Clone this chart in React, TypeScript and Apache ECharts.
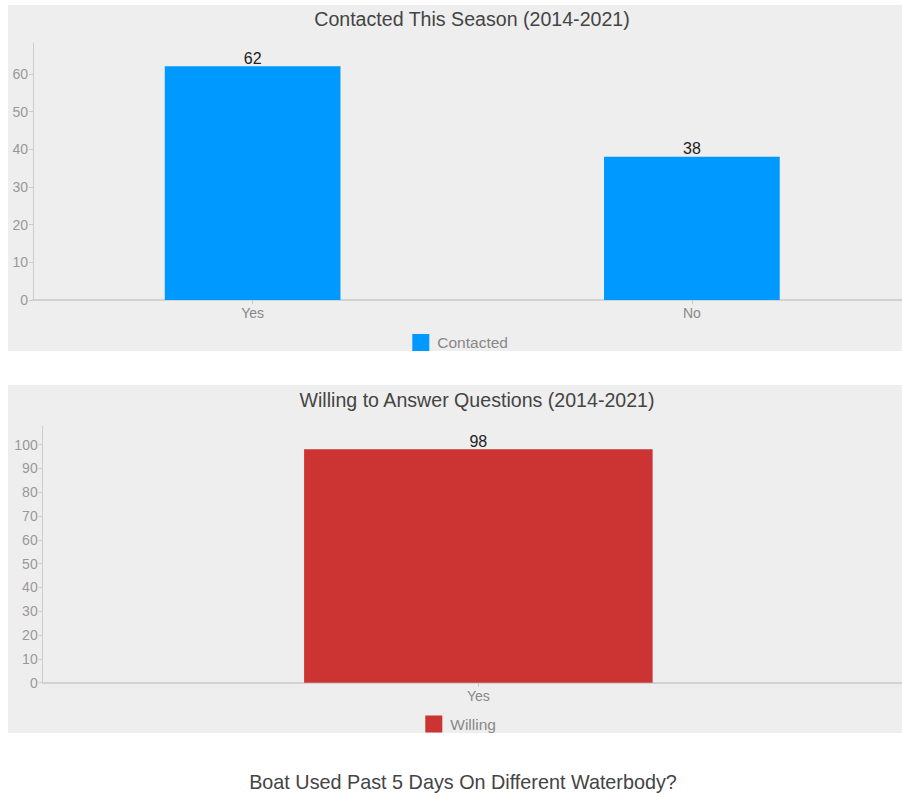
import React, { useEffect, useRef } from "react";
import * as echarts from "echarts";

const FONT = "'Liberation Sans', Arial, Helvetica, sans-serif";

const contactedTitle = "Contacted This Season (2014-2021)";
const contactedCategories = ["Yes", "No"];
const contactedValues = [62, 38];
const contactedTicks = [0, 10, 20, 30, 40, 50, 60];
const contactedLegend = "Contacted";

const willingTitle = "Willing to Answer Questions (2014-2021)";
const willingCategories = ["Yes"];
const willingValues = [98];
const willingTicks = [0, 10, 20, 30, 40, 50, 60, 70, 80, 90, 100];
const willingLegend = "Willing";

const boatTitle = "Boat Used Past 5 Days On Different Waterbody?";

type Layout = {
  titleX: number;
  titleTop: number;
  grid: { left: number; right: number; top: number; bottom: number };
  legendLeft: number;
  legendTop: number;
};

function buildBarOption(
  title: string,
  cats: string[],
  vals: number[],
  ticks: number[],
  legendName: string,
  color: string,
  lay: Layout
): any {
  return {
    animation: false,
    backgroundColor: "#eeeeee",
    title: {
      text: title,
      left: lay.titleX,
      top: lay.titleTop,
      textAlign: "center",
      padding: 0,
      textStyle: { fontFamily: FONT, fontSize: 19.6, fontWeight: "normal", color: "#444444" },
    },
    legend: {
      data: [{ name: legendName, icon: "rect" }],
      left: lay.legendLeft,
      top: lay.legendTop,
      padding: 0,
      itemWidth: 17,
      itemHeight: 17,
      itemGap: 8,
      selectedMode: false,
      textStyle: { fontFamily: FONT, fontSize: 15.5, color: "#888888", padding: [0, 0, 0, 3] },
    },
    grid: { ...lay.grid, containLabel: false },
    xAxis: {
      type: "category",
      data: cats,
      boundaryGap: true,
      axisLine: { show: true, lineStyle: { color: "#d2d2d2", width: 2 } },
      axisTick: { show: true, alignWithLabel: true, length: 4, lineStyle: { color: "#c8c8c8" } },
      axisLabel: { fontFamily: FONT, fontSize: 14, color: "#888888", margin: 6 },
      splitLine: { show: false },
    },
    yAxis: {
      type: "value",
      min: 0,
      max: (v: any) => Math.round(v.max * 1.1 * 10) / 10,
      axisLine: { show: true, lineStyle: { color: "#cccccc", width: 1 } },
      axisTick: {
        show: true,
        length: 4,
        customValues: ticks,
        lineStyle: { color: "#cccccc" },
      },
      axisLabel: {
        fontFamily: FONT,
        fontSize: 14,
        color: "#999999",
        margin: 5,
        customValues: ticks,
      },
      splitLine: { show: false },
    },
    series: [
      {
        name: legendName,
        type: "bar",
        data: vals,
        barWidth: "40%",
        itemStyle: { color },
        label: {
          show: true,
          position: "top",
          distance: 0,
          fontFamily: FONT,
          fontSize: 16,
          color: "#222222",
        },
      },
    ],
  };
}

function Chart({ option, style }: { option: any; style: React.CSSProperties }) {
  const ref = useRef<HTMLDivElement>(null);
  useEffect(() => {
    if (!ref.current) return;
    const chart = echarts.init(ref.current, null, { renderer: "svg" });
    chart.setOption(option);
    return () => chart.dispose();
  }, [option]);
  return <div ref={ref} style={style} />;
}

const option1 = buildBarOption(
  contactedTitle,
  contactedCategories,
  contactedValues,
  contactedTicks,
  contactedLegend,
  "#0099ff",
  {
    titleX: 464,
    titleTop: 3.7,
    grid: { left: 25, right: 26.5, top: 38, bottom: 51 },
    legendLeft: 404.3,
    legendTop: 329,
  }
);

const option2 = buildBarOption(
  willingTitle,
  willingCategories,
  willingValues,
  willingTicks,
  willingLegend,
  "#cc3333",
  {
    titleX: 469,
    titleTop: 5.2,
    grid: { left: 34.7, right: 24, top: 41, bottom: 50.3 },
    legendLeft: 417.3,
    legendTop: 330.5,
  }
);

const option3: any = {
  animation: false,
  backgroundColor: "#ffffff",
  title: {
    text: boatTitle,
    left: 455,
    top: 11.7,
    textAlign: "center",
    padding: 0,
    textStyle: { fontFamily: FONT, fontSize: 19.8, fontWeight: "normal", color: "#444444" },
  },
};

export default function App() {
  return (
    <div
      style={{
        position: "absolute",
        left: 0,
        top: 0,
        width: 902,
        height: 797,
        overflow: "hidden",
        background: "#ffffff",
      }}
    >
      <Chart option={option1} style={{ position: "absolute", left: 8, top: 5, width: 930, height: 346 }} />
      <Chart option={option2} style={{ position: "absolute", left: 8, top: 385, width: 930, height: 348 }} />
      <Chart option={option3} style={{ position: "absolute", left: 8, top: 760, width: 930, height: 60 }} />
    </div>
  );
}
